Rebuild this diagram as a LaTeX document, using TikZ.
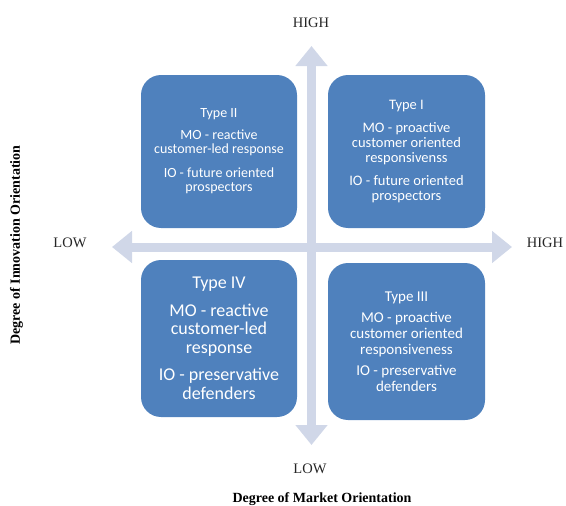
\documentclass[tikz,border=0pt]{standalone}
\usepackage{fontspec}
\setmainfont{Liberation Serif}
\newfontfamily\quadfont{Carlito}
\usepackage{xcolor}
\usetikzlibrary{arrows.meta, positioning}
\definecolor{quadblue}{RGB}{79,129,189}
\definecolor{axisgrey}{RGB}{208,215,232}
\tikzset{
  quad/.style={
    rectangle, rounded corners=20pt, fill=quadblue, draw=none,
    text=white, align=center, inner sep=2pt, font=\quadfont
  },
  axis/.style={
    draw=axisgrey, line width=9pt,
    {Triangle[width=31pt, length=20pt]}-{Triangle[width=31pt, length=20pt]}
  },
  level/.style={font=\fontsize{14.5}{16}\selectfont, text=black!85},
  axis title/.style={font=\fontsize{14}{16}\selectfont\bfseries},
}

\begin{document}
\begin{tikzpicture}[x=1pt, y=-1pt]
  \useasboundingbox (0,0) rectangle (566,506);

  % axes
  \coordinate (ylow) at (311.5,445);
  \coordinate (yhigh) at (311.5,46);
  \coordinate (xlow) at (112,247);
  \coordinate (xhigh) at (512,247);
  \draw[axis] (ylow) -- (yhigh);
  \draw[axis] (xlow) -- (xhigh);

  % quadrants
  \node[quad, minimum width=156pt, minimum height=153pt,
        font=\quadfont\fontsize{14}{14}\selectfont] (T2) at (219,151.5)
    {Type II\\[8pt]MO - reactive\\customer-led response\\[10pt]IO - future oriented\\prospectors};
  \node[quad, minimum width=157pt, minimum height=153pt,
        font=\quadfont\fontsize{14.5}{15}\selectfont] (T1) at (406.5,151.5)
    {Type I\\[8pt]MO - proactive\\customer oriented\\responsivenss\\[8pt]IO - future oriented\\prospectors};
  \node[quad, minimum width=156pt, minimum height=157pt,
        font=\quadfont\fontsize{18}{18.5}\selectfont] (T4) at (219,338.5)
    {Type IV\\[9pt]MO - reactive\\customer-led\\response\\[9pt]IO - preservative\\defenders};
  \node[quad, minimum width=157pt, minimum height=157pt,
        font=\quadfont\fontsize{15}{16}\selectfont] (T3) at (406.5,341.5)
    {Type III\\[5pt]MO - proactive\\customer oriented\\responsiveness\\[5pt]IO - preservative\\defenders};

  % axis labels
  \node[level] (hightop) at (311,23) {HIGH};
  \node[level] (lowbottom) at (310,469) {LOW};
  \node[level] (lowleft) at (70,243) {LOW};
  \node[level] (highright) at (545,243) {HIGH};
  \node[axis title] (mkt) at (322,499) {Degree of Market Orientation};
  \node[axis title, rotate=90] (inno) at (16.5,245) {Degree of Innovation Orientation};
\end{tikzpicture}
\end{document}
